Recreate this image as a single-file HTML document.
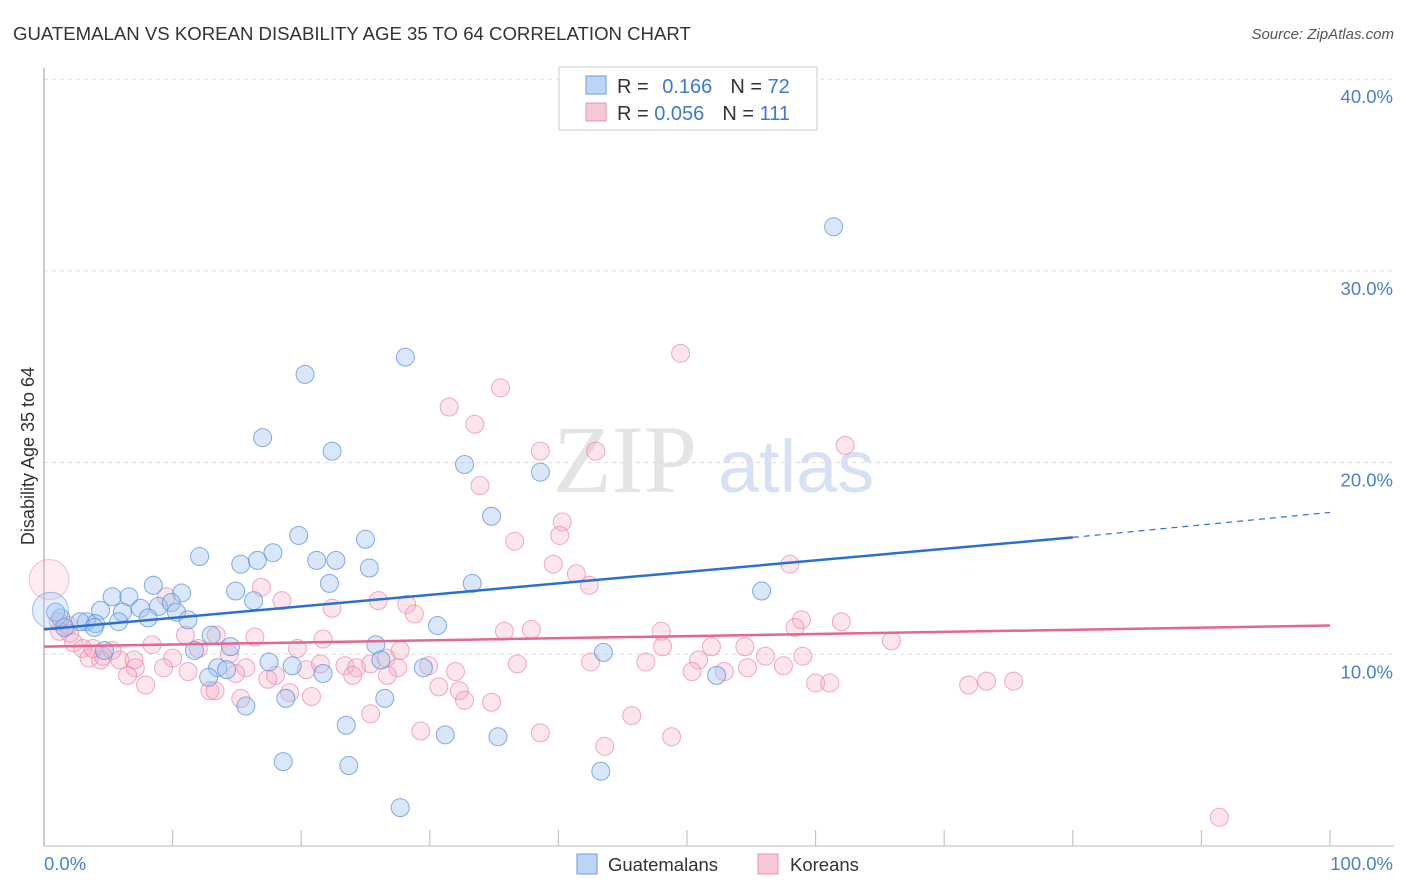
<!DOCTYPE html>
<html><head><meta charset="utf-8"><style>
body{margin:0;background:#fff;font-family:"Liberation Sans",sans-serif;}
#c{position:relative;width:1406px;height:892px;overflow:hidden;}
</style></head><body>
<div id="c">
<svg id="s" width="1406" height="892" xmlns="http://www.w3.org/2000/svg">
<text x="13" y="40" font-size="18.6" fill="#333">GUATEMALAN VS KOREAN DISABILITY AGE 35 TO 64 CORRELATION CHART</text>
<text x="1394" y="39" font-size="15" fill="#555" font-style="italic" text-anchor="end">Source: ZipAtlas.com</text>
<text x="553" y="492" font-size="96" fill="#e4e4e4" font-family="Liberation Serif,serif">ZIP</text>
<text x="718" y="492" font-size="74" fill="#d6e2f4">atlas</text>
<text transform="translate(34,456) rotate(-90)" font-size="18" fill="#333" text-anchor="middle">Disability Age 35 to 64</text>
<g id="grid"></g><g id="ticks"></g><g id="lines"></g><g id="pts"></g>
<g>
<rect x="559" y="67" width="258" height="63" fill="#fff" stroke="#ccc"/>
<rect x="586" y="76" width="20" height="18" fill="#bcd4f6" stroke="#6a9be0"/>
<rect x="586" y="103" width="20" height="18" fill="#f9c8d8" stroke="#ea93b0"/>
<text x="617" y="93" font-size="20" fill="#333">R = <tspan fill="#3d78d8" dx="8">0.166</tspan><tspan fill="#333" dx="18">N = </tspan><tspan fill="#3d78d8">72</tspan></text>
<text x="617" y="120" font-size="20" fill="#333">R = <tspan fill="#3d78d8">0.056</tspan><tspan fill="#333" dx="18">N = </tspan><tspan fill="#3d78d8">111</tspan></text>
</g>
<g>
<rect x="577" y="854" width="20" height="20" fill="#bcd4f6" stroke="#6a9be0"/>
<text x="608" y="871" font-size="18.5" fill="#333">Guatemalans</text>
<rect x="758" y="854" width="20" height="20" fill="#f9c8d8" stroke="#ea93b0"/>
<text x="790" y="871" font-size="18.5" fill="#333">Koreans</text>
</g>
</svg>
</div>
<script>
const yTicks=[10,20,30,40];
const yTickLabels=["10.0%","20.0%","30.0%","40.0%"];
const xTickLabels=["0.0%","100.0%"];
const blueX=[61.4,28.1,20.3,17.0,22.4,32.7,38.6,34.8,19.8,25.0,12.1,21.2,22.7,17.8,15.3,16.6,25.3,22.2,33.3,8.5,14.9,10.7,5.3,6.6,55.8,16.3,4.4,7.5,6.1,8.9,9.9,10.3,11.2,8.1,5.8,3.3,4.0,1.3,0.9,2.8,3.9,1.6,30.6,13.0,14.5,25.8,11.7,4.7,43.5,17.5,19.3,13.5,14.2,26.2,29.5,21.7,12.8,52.3,15.7,26.5,23.5,18.8,31.2,35.3,18.6,23.7,43.3,27.7,0.5];
const blueY=[32.3,25.5,24.6,21.3,20.6,19.9,19.5,17.2,16.2,16.0,15.1,14.9,14.9,15.3,14.7,14.9,14.5,13.7,13.7,13.6,13.3,13.2,13.0,13.0,13.3,12.8,12.3,12.4,12.2,12.5,12.7,12.2,11.8,11.9,11.7,11.7,11.6,11.9,12.2,11.7,11.4,11.4,11.5,11.0,10.4,10.5,10.2,10.2,10.1,9.6,9.4,9.3,9.2,9.7,9.3,9.0,8.8,8.9,7.3,7.7,6.3,7.7,5.8,5.7,4.4,4.2,3.9,2.0,12.3];
const pinkX=[49.5,35.5,31.5,33.5,62.3,42.9,38.6,33.9,40.3,36.6,40.1,39.6,41.4,42.4,58.0,16.9,26.0,18.5,28.2,22.4,28.8,9.5,58.9,62.0,58.4,48.0,35.8,37.9,65.9,11.0,13.4,16.4,21.7,19.7,8.4,27.7,48.1,51.9,54.5,2.3,3.0,5.3,4.6,5.9,3.5,4.4,7.0,10.0,12.0,14.4,9.3,7.1,11.2,15.7,14.9,18.0,20.4,21.5,23.4,24.3,25.4,26.6,27.5,29.9,32.0,36.8,42.5,46.8,50.9,52.9,54.7,56.1,57.5,59.0,50.4,6.5,7.9,12.9,13.3,15.3,17.4,19.1,20.8,24.0,26.7,30.7,32.3,32.7,34.8,60.0,61.1,71.9,73.3,75.4,25.4,29.3,38.6,45.7,43.6,48.8,91.4,1.1,2.0,1.9,3.8,1.2,0.4];
const pinkY=[25.7,23.9,22.9,22.0,20.9,20.6,20.6,18.8,16.9,15.9,16.2,14.7,14.2,13.6,14.7,13.5,12.8,12.8,12.6,12.4,12.1,13.0,11.8,11.7,11.4,11.2,11.2,11.3,10.7,11.0,11.0,10.9,10.8,10.3,10.5,10.2,10.4,10.4,10.4,10.6,10.3,10.2,9.9,9.7,9.8,9.7,9.7,9.8,10.3,10.0,9.3,9.3,9.1,9.3,9.0,8.9,9.2,9.5,9.4,9.3,9.5,9.8,9.3,9.4,9.1,9.5,9.6,9.6,9.7,9.1,9.3,9.9,9.4,9.9,9.1,8.9,8.4,8.1,8.1,7.7,8.7,8.0,7.8,8.9,8.9,8.3,8.1,7.6,7.5,8.5,8.5,8.4,8.6,8.6,6.9,6.0,5.9,6.8,5.2,5.7,1.5,11.7,11.1,11.5,10.3,11.2,13.9];
const blueTrendX=[0,80,100];
const blueTrendY=[11.3,16.1,17.4];
const pinkTrendX=[0,100];
const pinkTrendY=[10.4,11.5];

const NS="http://www.w3.org/2000/svg";
const X0=44,X1=1330,Y0=846,PX_PER=19.17;
function xs(v){return X0+(X1-X0)*v/100;}
function ys(v){return Y0-PX_PER*v;}
function mk(t,a,p){const e=document.createElementNS(NS,t);for(const k in a)e.setAttribute(k,a[k]);p.appendChild(e);return e;}
const grid=document.getElementById('grid'),ticks=document.getElementById('ticks'),lines=document.getElementById('lines'),pts=document.getElementById('pts');
let ax=mk('line',{x1:44,y1:68,x2:44,y2:846,stroke:'#bbb','stroke-width':1.5},ticks);


let bx=mk('line',{x1:44,y1:846,x2:1394,y2:846,stroke:'#bbb','stroke-width':1},ticks);


yTicks.forEach((v,i)=>{
 let g=mk('line',{x1:44,y1:ys(v),x2:1394,y2:ys(v),stroke:'#ddd','stroke-dasharray':'4,4'},grid);
 
 
 let t=mk('text',{x:1393,y:ys(v)+24,'font-size':18.5,fill:'#4a7fd4','text-anchor':'end'},ticks);
 t.textContent=yTickLabels[i];
 
 
});
for(let i=1;i<=10;i++){let tk=mk('line',{x1:xs(i*10),y1:830,x2:xs(i*10),y2:846,stroke:'#bbb'},ticks);
 
 }
let xl0=mk('text',{x:44,y:870,'font-size':18.5,fill:'#4a7fd4'},ticks);xl0.textContent=xTickLabels[0];


let xl1=mk('text',{x:1393,y:870,'font-size':18.5,fill:'#4a7fd4','text-anchor':'end'},ticks);xl1.textContent=xTickLabels[1];


function dots(X,Y,fill,stroke,name,bigLast){
 X.forEach((x,i)=>{
  const big=bigLast&&i===X.length-1;
  const r=big?(name==='korean-point'?20:18):9;
  let c=mk('circle',{cx:xs(x),cy:ys(Y[i]),r:r,fill:fill,stroke:stroke,'stroke-width':1,'opacity':big?0.75:1},pts);
  
  
 });
}
dots(pinkX,pinkY,'rgba(246,170,196,0.3)','rgba(232,128,162,0.65)','korean-point',true);
dots(blueX,blueY,'rgba(160,196,240,0.4)','rgba(80,140,220,0.7)','guatemalan-point',true);
let bl=mk('line',{x1:xs(blueTrendX[0]),y1:ys(blueTrendY[0]),x2:xs(blueTrendX[1]),y2:ys(blueTrendY[1]),stroke:'#2a6fd6','stroke-width':2.5},lines);


let bd=mk('line',{x1:xs(blueTrendX[1]),y1:ys(blueTrendY[1]),x2:xs(blueTrendX[2]),y2:ys(blueTrendY[2]),stroke:'#2a6fd6','stroke-width':1.2,'stroke-dasharray':'6,5'},lines);


let pl=mk('line',{x1:xs(pinkTrendX[0]),y1:ys(pinkTrendY[0]),x2:xs(pinkTrendX[1]),y2:ys(pinkTrendY[1]),stroke:'#e4678f','stroke-width':2.5},lines);


document.getElementById('s').appendChild(lines);
</script>
</body></html>
